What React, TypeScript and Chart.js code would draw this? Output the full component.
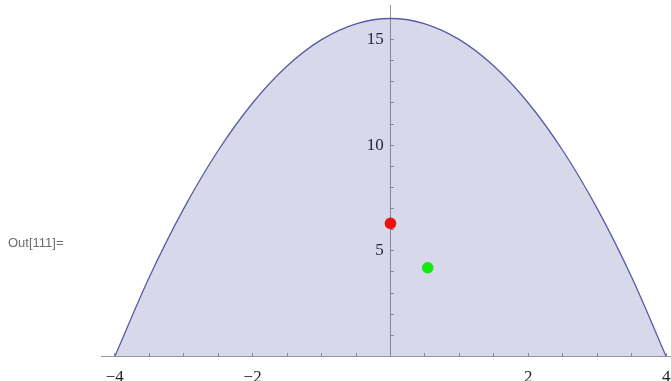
import { useEffect, useRef } from "react";
import { Chart, registerables } from "chart.js";

Chart.register(...registerables);

// Sampled curve y = 16 - x^2 on [-4, 4]
const curveX = [-4, -3.5, -3, -2.5, -2, -1.5, -1, -0.5, 0, 0.5, 1, 1.5, 2, 2.5, 3, 3.5, 4];
const curveY = [0, 3.75, 7, 9.75, 12, 13.75, 15, 15.75, 16, 15.75, 15, 13.75, 12, 9.75, 7, 3.75, 0];

// Highlighted points
const redPoint = { x: 0, y: 6.3 };
const greenPoint = { x: 0.54, y: 4.2 };

// Labelled tick values
const xLabelValues = [-4, -2, 2, 4];
const yLabelValues = [5, 10, 15];

const outLabel = "Out[111]=";

const AXIS_GRAY = "#9a9a9a";
const LABEL_FONT = { family: "'Liberation Serif', 'Times New Roman', serif", size: 17 };

const formatNumber = (n: number) => (n < 0 ? "\u2212" : "") + Math.abs(n);

export default function App() {
  const canvasRef = useRef<HTMLCanvasElement | null>(null);

  useEffect(() => {
    document.body.style.margin = "0";
    const canvas = canvasRef.current;
    if (!canvas) return;

    const squash = (s: any, horizontal: boolean) => {
      if (horizontal) s.height = 0;
      else s.width = 0;
      s.paddingLeft = 0;
      s.paddingRight = 0;
      s.paddingTop = 0;
      s.paddingBottom = 0;
    };

    const chart = new Chart(canvas, {
      type: "scatter",
      data: {
        datasets: [
          {
            label: "points",
            data: [redPoint, greenPoint],
            pointRadius: 5.8,
            pointHoverRadius: 5.8,
            pointBorderWidth: 0,
            backgroundColor: ["#f01010", "#12e812"],
            borderColor: ["#f01010", "#12e812"],
            showLine: false,
          },
          {
            label: "curve",
            data: curveX.map((x, i) => ({ x, y: curveY[i] })),
            showLine: true,
            cubicInterpolationMode: "monotone",
            borderColor: "rgb(90, 90, 165)",
            borderWidth: 1.3,
            backgroundColor: "rgba(61, 61, 153, 0.2)",
            fill: "origin",
            pointRadius: 0,
            pointHoverRadius: 0,
          },
        ],
      },
      options: {
        responsive: false,
        animation: false,
        events: [],
        layout: { padding: { left: 101, right: 13.5, top: 0, bottom: 24.5 } },
        plugins: {
          legend: { display: false },
          tooltip: { enabled: false },
        },
        scales: {
          x: {
            type: "linear",
            min: -4.2,
            max: 4.15,
            position: { y: 0 } as any,
            grid: {
              drawOnChartArea: false,
              drawTicks: true,
              tickLength: -4,
              tickColor: AXIS_GRAY,
              tickWidth: 1,
            },
            border: { display: true, color: AXIS_GRAY, width: 1 },
            ticks: {
              stepSize: 0.5,
              includeBounds: false,
              autoSkip: false,
              maxRotation: 0,
              padding: 15,
              color: "#222",
              font: LABEL_FONT,
              callback: (v: any) => {
                const n = Math.round(Number(v) * 2) / 2;
                return xLabelValues.includes(n) ? formatNumber(n) : "";
              },
            },
            afterFit: (s: any) => squash(s, true),
          },
          y: {
            type: "linear",
            min: 0,
            max: 16.6,
            position: { x: 0 } as any,
            grid: {
              drawOnChartArea: false,
              drawTicks: true,
              tickLength: -4,
              tickColor: AXIS_GRAY,
              tickWidth: 1,
            },
            border: { display: true, color: AXIS_GRAY, width: 1 },
            ticks: {
              stepSize: 1,
              includeBounds: false,
              autoSkip: false,
              color: "#222",
              font: LABEL_FONT,
              callback: (v: any) => {
                const n = Math.round(Number(v));
                return yLabelValues.includes(n) ? formatNumber(n) + "\u2009\u2009" : "";
              },
            },
            afterFit: (s: any) => squash(s, false),
          },
        },
      },
    });

    return () => chart.destroy();
  }, []);

  return (
    <div
      style={{
        position: "fixed",
        left: 0,
        top: 0,
        width: 671,
        height: 381,
        overflow: "hidden",
        background: "#fff",
      }}
    >
      <canvas ref={canvasRef} width={690} height={381} style={{ display: "block" }} />
      <div
        style={{
          position: "absolute",
          left: 8,
          top: 235,
          fontFamily: "'Liberation Sans', Arial, sans-serif",
          fontSize: 13,
          color: "#6e6e6e",
          whiteSpace: "nowrap",
        }}
      >
        {outLabel}
      </div>
    </div>
  );
}
